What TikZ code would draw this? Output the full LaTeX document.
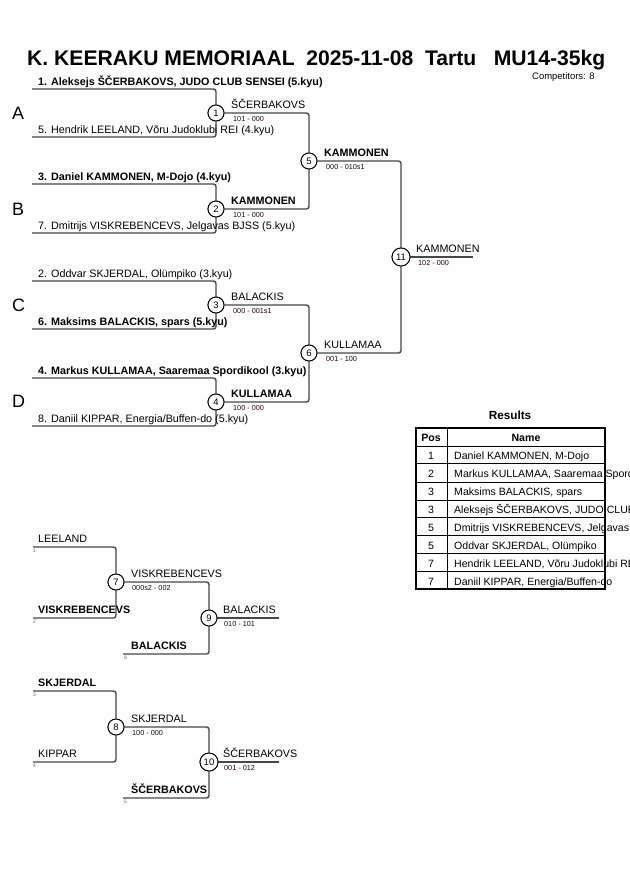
\documentclass[tikz,border=0pt]{standalone}
\usepackage{fontspec}
\setmainfont{Liberation Sans}
\newcommand\myfs[1]{\fontsize{#1}{#1}\selectfont}
\begin{document}
\begin{tikzpicture}[x=1bp,y=-1bp,
  br/.style={draw=black!72, line width=1.4bp, rounded corners=2.5bp},
  mc/.style={circle, draw=black, line width=0.9bp, fill=white, minimum size=16bp, inner sep=0pt, font=\myfs{9.5}},
  mcw/.style={mc, minimum size=18bp},
  nm/.style={anchor=base west, inner sep=0pt, font=\myfs{10.8}},
  nmb/.style={nm, font=\myfs{10.8}\bfseries},
  sc/.style={anchor=base west, inner sep=0pt, font=\myfs{7.3}, text=black!85!red},
  tiny/.style={anchor=base west, inner sep=0pt, font=\myfs{5}, text=black!60},
  grp/.style={anchor=base west, inner sep=0pt, font=\myfs{18}},
  tb/.style={anchor=base, inner sep=0pt, font=\myfs{10.6}},
  tbl/.style={anchor=base west, inner sep=0pt, font=\myfs{10.6}}]
\clip (0,0) rectangle (630,891);
\fill[white] (0,0) rectangle (630,891);
% title
\node[anchor=base west, inner sep=0pt, font=\myfs{21.2}\bfseries] (title) at (27,65) {K. KEERAKU MEMORIAAL\ \ 2025-11-08\ \ Tartu\ \ \ MU14-35kg};
\node[anchor=base west, inner sep=0pt, font=\myfs{9.5}] (comp) at (532,79) {Competitors: 8};
% group letters
\node[grp] (gA) at (12,119) {A};
\node[grp] (gB) at (12,215) {B};
\node[grp] (gC) at (12,311) {C};
\node[grp] (gD) at (12,407) {D};
% start coordinates
\coordinate (a1) at (32,89);
\coordinate (a5) at (32,137);
\coordinate (a3) at (32,184);
\coordinate (a7) at (32,233);
\coordinate (a2) at (32,281);
\coordinate (a6) at (32,329);
\coordinate (a4) at (32,378);
\coordinate (a8) at (32,426);
\coordinate (e11) at (473,257);
% match nodes
\node[mc] (m1) at (216,113) {1};
\node[mc] (m2) at (216,209) {2};
\node[mc] (m3) at (216,305) {3};
\node[mc] (m4) at (216,402) {4};
\node[mc] (m5) at (309,161) {5};
\node[mc] (m6) at (309,353) {6};
\node[mcw] (m11) at (401,257) {11};
% connectors
\draw[br] (a1) -| (m1);
\draw[br] (a5) -| (m1);
\draw[br] (a3) -| (m2);
\draw[br] (a7) -| (m2);
\draw[br] (a2) -| (m3);
\draw[br] (a6) -| (m3);
\draw[br] (a4) -| (m4);
\draw[br] (a8) -| (m4);
\draw[br] (m1) -| (m5);
\draw[br] (m2) -| (m5);
\draw[br] (m3) -| (m6);
\draw[br] (m4) -| (m6);
\draw[br] (m5) -| (m11);
\draw[br] (m6) -| (m11);
\draw[br] (m11) -- (e11);
% redraw circles on top
\foreach \n/\t in {m1/1,m2/2,m3/3,m4/4,m5/5,m6/6}{\node[mc] at (\n) {\t};}
\node[mcw] at (m11) {11};
% competitor names
\node[nmb] (n1) at (38,85) {1. Aleksejs ŠČERBAKOVS, JUDO CLUB SENSEI (5.kyu)};
\node[nm] (n5) at (38,133) {5. Hendrik LEELAND, Võru Judoklubi REI (4.kyu)};
\node[nmb] (n3) at (38,180) {3. Daniel KAMMONEN, M-Dojo (4.kyu)};
\node[nm] (n7) at (38,229) {7. Dmitrijs VISKREBENCEVS, Jelgavas BJSS (5.kyu)};
\node[nm] (n2) at (38,277) {2. Oddvar SKJERDAL, Olümpiko (3.kyu)};
\node[nmb] (n6) at (38,325) {6. Maksims BALACKIS, spars (5.kyu)};
\node[nmb] (n4) at (38,374) {4. Markus KULLAMAA, Saaremaa Spordikool (3.kyu)};
\node[nm] (n8) at (38,422) {8. Daniil KIPPAR, Energia/Buffen-do (5.kyu)};
% winners and scores
\node[nm] (w1) at (231,108) {ŠČERBAKOVS};
\node[sc] (s1) at (233,121) {101 - 000};
\node[nmb] (w2) at (231,204) {KAMMONEN};
\node[sc] (s2) at (233,217) {101 - 000};
\node[nm] (w3) at (231,300) {BALACKIS};
\node[sc] (s3) at (233,313) {000 - 001s1};
\node[nmb] (w4) at (231,397) {KULLAMAA};
\node[sc] (s4) at (233,410) {100 - 000};
\node[nmb] (w5) at (324,156) {KAMMONEN};
\node[sc] (s5) at (326,169) {000 - 010s1};
\node[nm] (w6) at (324,348) {KULLAMAA};
\node[sc] (s6) at (326,361) {001 - 100};
\node[nm] (w11) at (416,252) {KAMMONEN};
\node[sc] (s11) at (418,265) {102 - 000};
% repechage
\coordinate (r1) at (33,547);
\coordinate (r2) at (33,618);
\coordinate (r8) at (123,654);
\coordinate (r3) at (33,691);
\coordinate (r4) at (33,762);
\coordinate (r5) at (123,798);
\coordinate (e9) at (279,618);
\coordinate (e10) at (279,762);
\node[mc] (m7) at (116,582) {7};
\node[mc] (m9) at (209,618) {9};
\node[mc] (m8) at (116,727) {8};
\node[mcw] (m10) at (209,762) {10};
\draw[br] (r1) -| (m7);
\draw[br] (r2) -| (m7);
\draw[br] (m7) -| (m9);
\draw[br] (r8) -| (m9);
\draw[br] (m9) -- (e9);
\draw[br] (r3) -| (m8);
\draw[br] (r4) -| (m8);
\draw[br] (m8) -| (m10);
\draw[br] (r5) -| (m10);
\draw[br] (m10) -- (e10);
\node[mc] at (m7) {7};
\node[mc] at (m9) {9};
\node[mc] at (m8) {8};
\node[mcw] at (m10) {10};
\node[nm] (l1) at (38,542) {LEELAND};
\node[nmb] (l2) at (38,613) {VISKREBENCEVS};
\node[nmb] (l8) at (131,649) {BALACKIS};
\node[nmb] (l3) at (38,686) {SKJERDAL};
\node[nm] (l4) at (38,757) {KIPPAR};
\node[nmb] (l5) at (131,793) {ŠČERBAKOVS};
\node[tiny] (t1) at (33,552) {1};
\node[tiny] (t2) at (33,623) {2};
\node[tiny] (t8) at (124,659) {8};
\node[tiny] (t3) at (33,696) {3};
\node[tiny] (t4) at (33,767) {4};
\node[tiny] (t5) at (124,803) {5};
\node[nm] (w7) at (131,577) {VISKREBENCEVS};
\node[sc] (s7) at (132,590) {000s2 - 002};
\node[nm] (w9) at (223,613) {BALACKIS};
\node[sc] (s9) at (224,626) {010 - 101};
\node[nm] (w8) at (131,722) {SKJERDAL};
\node[sc] (s8) at (132,735) {100 - 000};
\node[nm] (w10) at (223,757) {ŠČERBAKOVS};
\node[sc] (s10) at (224,770) {001 - 012};
% results table
\node[anchor=base, inner sep=0pt, font=\myfs{11.8}\bfseries] (rt) at (510,419) {Results};
\foreach \y in {446,463,482,500,517,535,553,571}{\draw[line width=0.8bp] (416,\y) -- (605,\y);}
\draw[line width=0.8bp] (447,428) -- (447,589);
\node[tb, font=\myfs{10.6}\bfseries] (hp) at (431,441) {Pos};
\node[tb, font=\myfs{10.6}\bfseries] (hn) at (526,441) {Name};
\foreach \p/\nme/\yb in {1/{Daniel KAMMONEN, M-Dojo}/459, 2/{Markus KULLAMAA, Saaremaa Spordikool}/477, 3/{Maksims BALACKIS, spars}/495, 3/{Aleksejs ŠČERBAKOVS, JUDO CLUB SENSEI}/513, 5/{Dmitrijs VISKREBENCEVS, Jelgavas BJSS}/531, 5/{Oddvar SKJERDAL, Olümpiko}/549, 7/{Hendrik LEELAND, Võru Judoklubi REI}/567, 7/{Daniil KIPPAR, Energia/Buffen-do}/585}{
  \node[tb] at (431,\yb) {\p};
  \node[tbl] at (454,\yb) {\nme};
}
\draw[line width=1.8bp] (416,428) rectangle (605,589);
\end{tikzpicture}
\end{document}
